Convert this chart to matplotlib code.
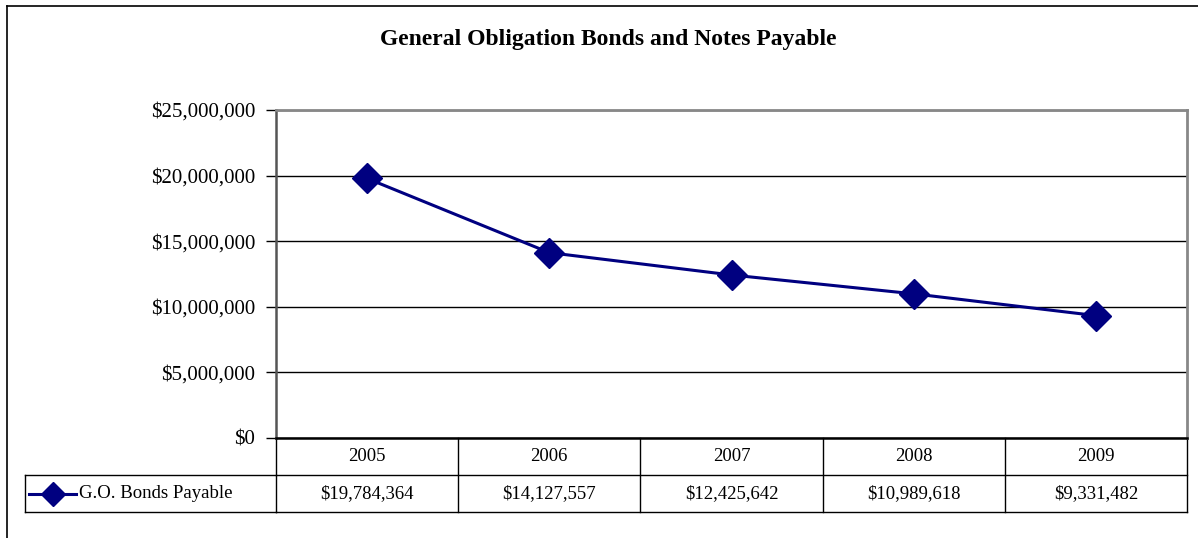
import matplotlib.pyplot as plt
from matplotlib.lines import Line2D
from matplotlib.ticker import FuncFormatter
import matplotlib.transforms as mtransforms

plt.rcParams['font.family'] = ['Liberation Serif', 'DejaVu Serif']

years = ['2005', '2006', '2007', '2008', '2009']
bonds_payable = [19784364, 14127557, 12425642, 10989618, 9331482]
series_name = 'G.O. Bonds Payable'
title = 'General Obligation Bonds and Notes Payable'
y_ticks = [0, 5000000, 10000000, 15000000, 20000000, 25000000]

navy = '#000080'
W, H = 1198, 538

fig = plt.figure(figsize=(W / 100, H / 100), dpi=100)

# chart frame (top and left edges only show)
fig.add_artist(Line2D([7 / W, 7 / W], [0, 1 - 6 / H], transform=fig.transFigure,
                      color='black', lw=1.2))
fig.add_artist(Line2D([7 / W, 1], [1 - 6 / H, 1 - 6 / H], transform=fig.transFigure,
                      color='black', lw=1.2))

left, right, top, bottom = 276, 1187, 110, 438
ax = fig.add_axes([left / W, 1 - bottom / H, (right - left) / W, (bottom - top) / H])

xs = list(range(len(years)))
ax.plot(xs, bonds_payable, color=navy, lw=2.2, marker='D', markersize=15,
        markerfacecolor=navy, markeredgecolor=navy, zorder=3)

ax.set_xlim(-0.5, len(years) - 0.5)
ax.set_ylim(0, 25000000)
ax.set_yticks(y_ticks)
ax.yaxis.set_major_formatter(FuncFormatter(lambda v, p: f'${v:,.0f}'))
ax.tick_params(axis='y', labelsize=15, length=7, width=1, color='black', pad=8)
ax.set_xticks([])
ax.grid(axis='y', color='black', lw=1)
ax.set_axisbelow(True)

for side in ('top', 'right'):
    ax.spines[side].set_color('#888888')
    ax.spines[side].set_linewidth(2)
ax.spines['left'].set_color('#555555')
ax.spines['left'].set_linewidth(1.8)
ax.spines['bottom'].set_color('black')
ax.spines['bottom'].set_linewidth(1.8)

fig.text(608 / W, 1 - 40 / H, title, ha='center', va='center',
         fontsize=17, fontweight='bold')

# data table under the axis
row_h = 37 / (bottom - top)
trans = mtransforms.blended_transform_factory(ax.transData, ax.transAxes)
legend_left = (25 - left) / (right - left)
tab_kw = dict(color='black', lw=1, clip_on=False)

n = len(years)
ax.plot([-0.5, n - 0.5], [-row_h, -row_h], transform=trans, **tab_kw)
ax.plot([-0.5, n - 0.5], [-2 * row_h, -2 * row_h], transform=trans, **tab_kw)
for i in range(n + 1):
    ax.plot([i - 0.5, i - 0.5], [0, -2 * row_h], transform=trans, **tab_kw)
ax.plot([legend_left, 0], [-row_h, -row_h], transform=ax.transAxes, **tab_kw)
ax.plot([legend_left, 0], [-2 * row_h, -2 * row_h], transform=ax.transAxes, **tab_kw)
ax.plot([legend_left, legend_left], [-row_h, -2 * row_h], transform=ax.transAxes, **tab_kw)

for i, (yr, val) in enumerate(zip(years, bonds_payable)):
    ax.text(i, -0.5 * row_h, yr, transform=trans, ha='center', va='center', fontsize=13.5)
    ax.text(i, -1.5 * row_h, f'${val:,.0f}', transform=trans, ha='center', va='center',
            fontsize=13.5)

# legend key inside the table
key_x0 = (29 - left) / (right - left)
key_x1 = (76 - left) / (right - left)
ax.plot([key_x0, key_x1], [-1.5 * row_h, -1.5 * row_h], transform=ax.transAxes,
        color=navy, lw=2.2, clip_on=False)
ax.plot([(key_x0 + key_x1) / 2], [-1.5 * row_h], transform=ax.transAxes, marker='D',
        markersize=12, color=navy, clip_on=False)
ax.text((79 - left) / (right - left), -1.5 * row_h, series_name, transform=ax.transAxes,
        ha='left', va='center', fontsize=13.5)

fig.savefig('out.png', dpi=100)
